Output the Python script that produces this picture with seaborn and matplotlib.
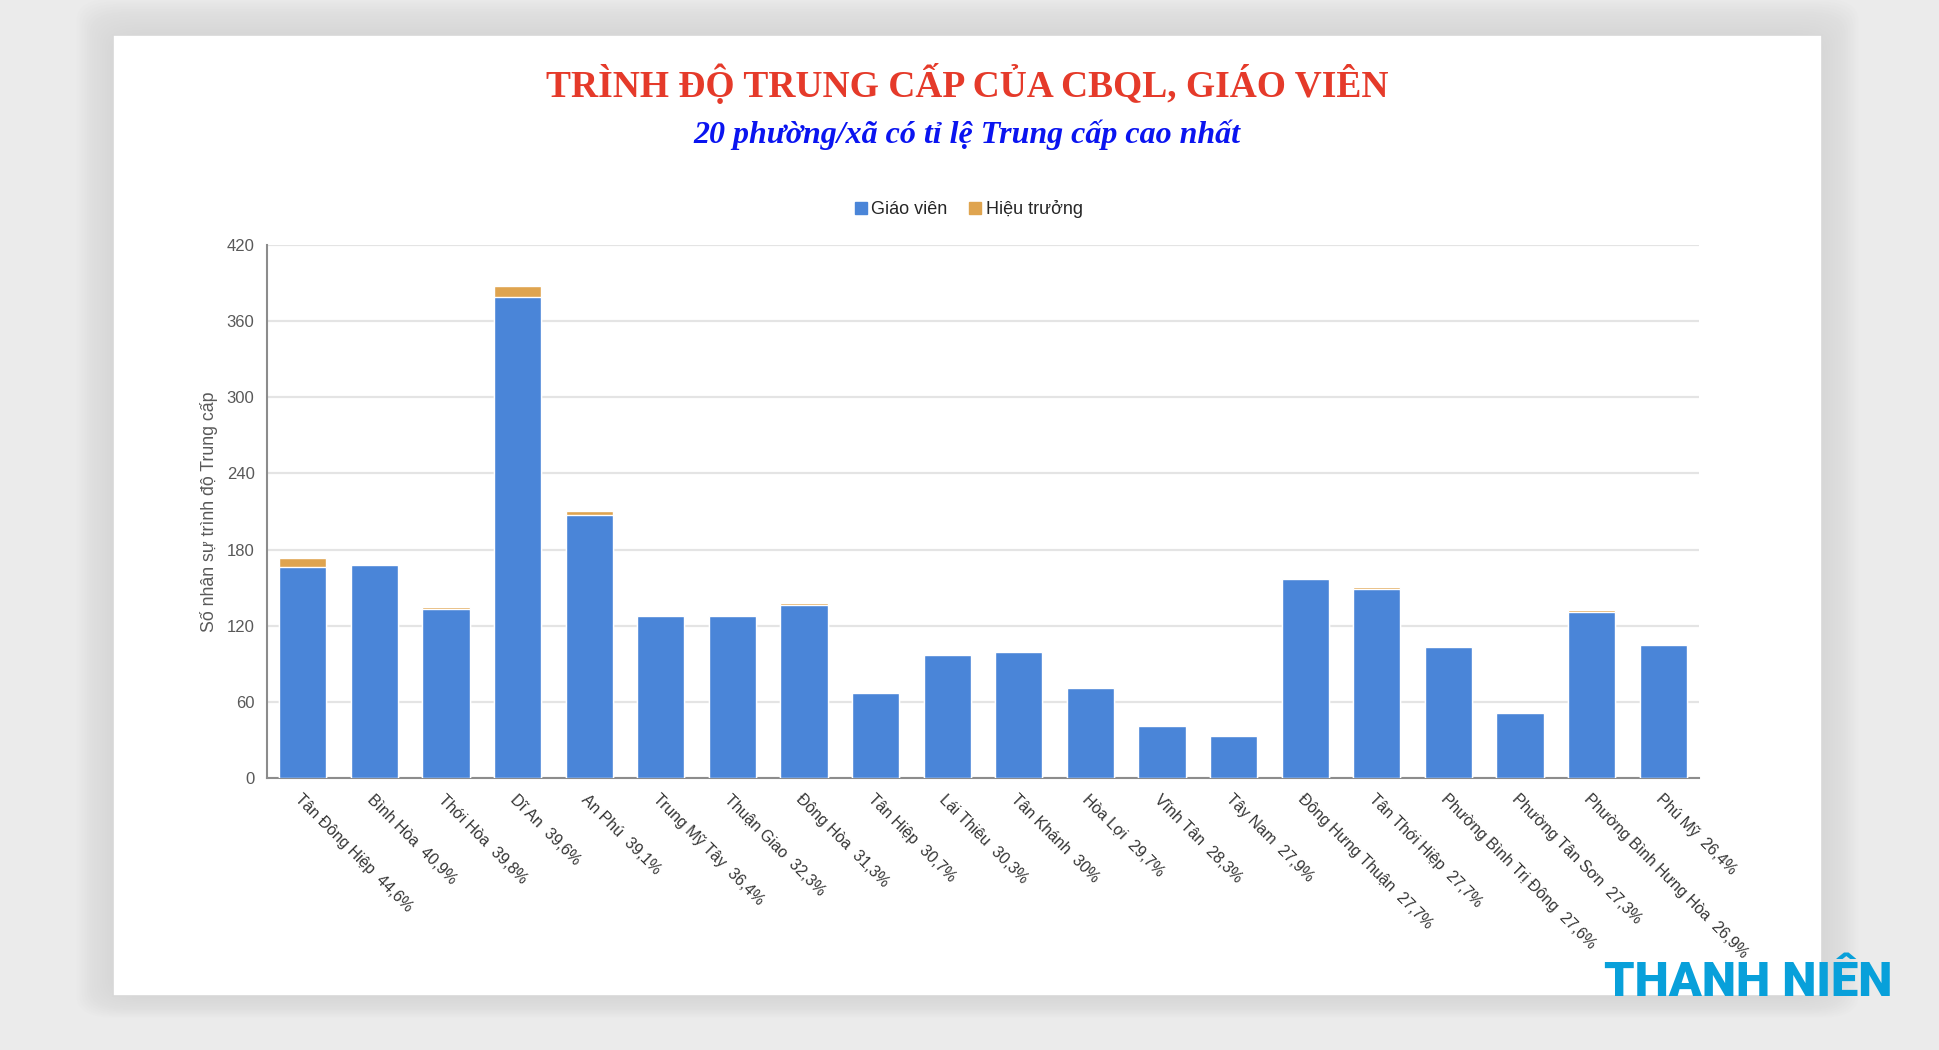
import pandas as pd
import seaborn as sns
import matplotlib.pyplot as plt
from matplotlib.patches import Rectangle, FancyBboxPatch
from matplotlib.lines import Line2D

# du lieu doc tu bieu do
phuong = ['Tân Đông Hiệp', 'Bình Hòa', 'Thới Hòa', 'Dĩ An', 'An Phú', 'Trung Mỹ Tây',
          'Thuận Giao', 'Đông Hòa', 'Tân Hiệp', 'Lái Thiêu', 'Tân Khánh', 'Hòa Lợi',
          'Vĩnh Tân', 'Tây Nam', 'Đông Hưng Thuận', 'Tân Thới Hiệp', 'Phường Bình Trị Đông',
          'Phường Tân Sơn', 'Phường Bình Hưng Hòa', 'Phú Mỹ']
ti_le = ['44,6%', '40,9%', '39,8%', '39,6%', '39,1%', '36,4%', '32,3%', '31,3%', '30,7%', '30,3%',
         '30%', '29,7%', '28,3%', '27,9%', '27,7%', '27,7%', '27,6%', '27,3%', '26,9%', '26,4%']
giao_vien = [166, 168, 133, 379, 207, 128, 128, 136, 67, 97, 99, 71, 41, 33, 157, 149, 103, 51, 131, 105]
hieu_truong = [7, 0, 2, 9, 3, 0, 0, 2, 1, 1, 0, 1, 0, 0, 0, 1.5, 0, 0, 1, 0]
y_ticks = [0, 60, 120, 180, 240, 300, 360, 420]

xanh = '#4A85D8'
cam = '#DFA44F'

df = pd.DataFrame({'phuong': phuong, 'gv': giao_vien, 'ht': hieu_truong})
df['tong'] = df['gv'] + df['ht']
df['nhan'] = [f'{p}  {t}' for p, t in zip(phuong, ti_le)]

sns.set_style('white')
plt.rcParams['font.family'] = ['Liberation Sans', 'DejaVu Sans']

W, H = 1940, 1050
fig = plt.figure(figsize=(W / 100, H / 100), dpi=100)
fig.patch.set_facecolor('#ebebeb')

# the giay trang co bong do
x0, y0, x1, y1 = 113, 35, 1822, 996
for i in range(14, 0, -1):
    pad = i * 2.6
    fig.patches.append(FancyBboxPatch(
        ((x0 - pad) / W, 1 - (y1 + pad * 0.6) / H), (x1 - x0 + 2 * pad) / W, (y1 - y0 + pad * 1.6) / H,
        boxstyle='round,pad=0,rounding_size=0.02', transform=fig.transFigure,
        facecolor='#a0a0a0', edgecolor='none', alpha=0.016, zorder=0))
fig.patches.append(Rectangle((x0 / W, 1 - y1 / H), (x1 - x0) / W, (y1 - y0) / H,
                             transform=fig.transFigure, facecolor='white',
                             edgecolor='#d8d8d8', lw=1.2, zorder=1))

ax = fig.add_axes([267 / W, 1 - 778 / H, (1699 - 267) / W, (778 - 245) / H])
ax.set_zorder(2)
ax.patch.set_alpha(0)

sns.barplot(data=df, x='nhan', y='tong', color=cam, width=0.66, saturation=1, ax=ax, zorder=3)
sns.barplot(data=df, x='nhan', y='gv', color=xanh, width=0.66, saturation=1, ax=ax, zorder=4)

ax.set_ylim(0, 420)
ax.set_xlim(-0.5, len(phuong) - 0.5)
ax.set_yticks(y_ticks)
ax.yaxis.grid(True, color='#e4e4e4', lw=1.6)
ax.set_axisbelow(True)
for s in ['top', 'right']:
    ax.spines[s].set_visible(False)
for s in ['left', 'bottom']:
    ax.spines[s].set_color('#8c8c8c')
    ax.spines[s].set_linewidth(1.5)

ax.tick_params(axis='y', labelsize=12, labelcolor='#595959', length=5, width=1.2,
               color='#8c8c8c', pad=4)
ax.set_xticks(range(len(phuong)))
ax.set_xticklabels(df['nhan'], rotation=-45, ha='left', va='top', rotation_mode='anchor',
                   fontsize=11.3, color='#333333')
ax.tick_params(axis='x', length=0, pad=10)
ax.set_xticks([i - 0.5 for i in range(len(phuong) + 1)], minor=True)
ax.tick_params(axis='x', which='minor', length=6, width=1.2, color='#8c8c8c')

ax.set_xlabel('')
ax.set_ylabel('Số nhân sự trình độ Trung cấp', fontsize=12.8, color='#595959', labelpad=6)

# tieu de
fig.text(967 / W, 1 - 85 / H, 'TRÌNH ĐỘ TRUNG CẤP CỦA CBQL, GIÁO VIÊN', ha='center', va='center',
         fontsize=27, fontweight='bold', color='#E53A2A', family='Liberation Serif', zorder=5)
fig.text(967 / W, 1 - 135 / H, '20 phường/xã có tỉ lệ Trung cấp cao nhất', ha='center', va='center',
         fontsize=23, fontweight='bold', style='italic', color='#0A14F0',
         family='Liberation Serif', zorder=5)

# chu giai
handles = [Line2D([], [], marker='s', ls='none', color=xanh, markersize=8),
           Line2D([], [], marker='s', ls='none', color=cam, markersize=8)]
fig.legend(handles, ['Giáo viên', 'Hiệu trưởng'], loc='center', bbox_to_anchor=(967 / W, 1 - 209 / H),
           ncol=2, frameon=False, fontsize=13, handletextpad=0.1, columnspacing=1.0,
           handlelength=1.0)

# logo
fig.text(1604 / W, 1 - 996 / H, 'THANH NIÊN', ha='left', va='baseline', fontsize=35,
         fontweight='black', color='#08A0DA', family='Roboto', zorder=6)

fig.savefig('out.png', dpi=100, facecolor=fig.get_facecolor())
